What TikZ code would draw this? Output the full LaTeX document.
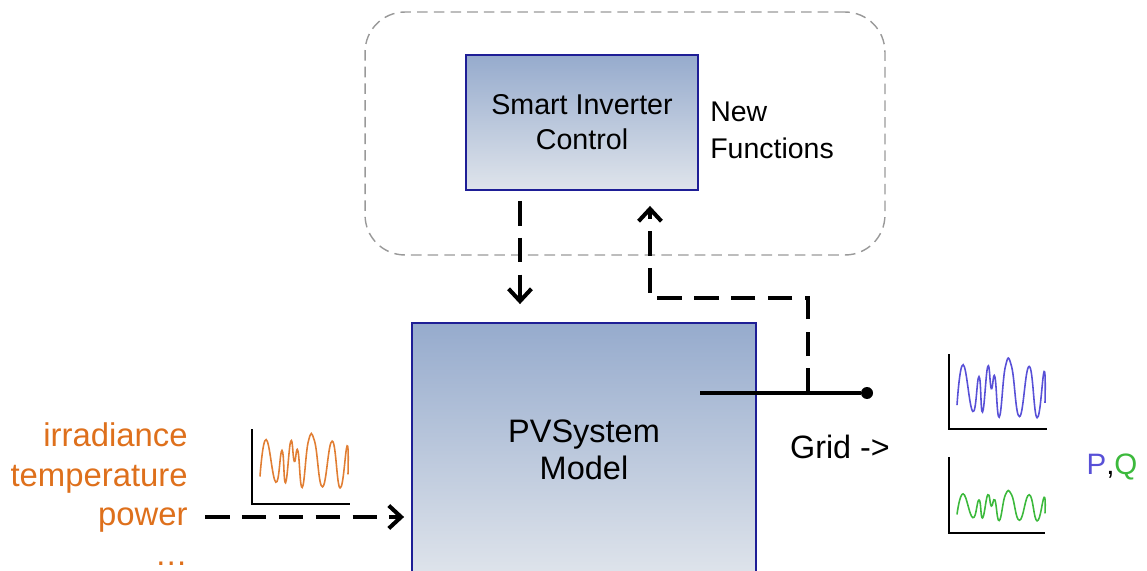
\documentclass[tikz,border=0pt]{standalone}
\usepackage{fontspec}
\setmainfont{Liberation Sans}
\usetikzlibrary{arrows.meta}
\definecolor{boxtop}{RGB}{150,171,205}
\definecolor{boxbot}{RGB}{223,228,235}
\definecolor{boxline}{RGB}{30,30,150}
\definecolor{inorange}{RGB}{222,112,28}
\definecolor{pblue}{RGB}{88,80,215}
\definecolor{qgreen}{RGB}{60,185,60}
\tikzset{signal/.pic={\draw[pic actions] plot[smooth,tension=0.8] coordinates {(0,0.26) (0.07,0.97) (0.18,0.15) (0.25,0.76) (0.29,0.14) (0.35,0.94) (0.39,0.55) (0.43,0.76) (0.48,0.05) (0.55,0.94) (0.62,0.94) (0.71,0.06) (0.82,0.94) (0.91,0.04) (0.99,0.85) (1,0.3)};}}
\begin{document}
\begin{tikzpicture}[x=0.02cm,y=-0.02cm,
    block/.style={draw=boxline,line width=1.1pt,top color=boxtop,bottom color=boxbot,align=center},
    group/.style={draw=black!40,line width=0.8pt,dash pattern=on 6pt off 3.5pt,rounded corners=0.8cm},
    flow/.style={line width=2.3pt,dash pattern=on 14pt off 7pt,-{Straight Barb[length=7pt,width=13pt,line width=2.3pt]}},
    wire/.style={line width=2pt},
    axis/.style={line width=1.1pt},
    dot/.style={circle,fill,inner sep=0pt,minimum size=0.24cm}]
    \clip (0,0) rectangle (1147,571);

    % control part
    \node[group,minimum width=10.4cm,minimum height=4.86cm] (grp) at (625,133.5) {};
    \node[block,minimum width=4.64cm,minimum height=2.7cm,font=\fontsize{16.3}{20}\selectfont] (sic) at (582,122.5) {Smart Inverter\\Control};
    \node[anchor=west,inner sep=0pt,align=left,font=\fontsize{16.2}{21}\selectfont] (new) at (710,130) {New\\Functions};

    % model
    \node[block,minimum width=6.88cm,minimum height=5.08cm,font=\fontsize{18.5}{21}\selectfont] (pv) at (584,450) {PVSystem\\Model};

    % inputs
    \node[anchor=north east,inner sep=0pt,align=right,text=inorange,font=\fontsize{18.7}{22.7}\selectfont] (inputs) at (188,422) {irradiance\\temperature\\power\\\ldots};
    \draw[axis] (252,429) |- (350,504);
    \pic[draw=inorange!90,line width=0.9pt,xscale=88,yscale=-52] at (260,490) {signal};
    \coordinate (pw) at (205,517);
    \draw[flow,shorten >=0.14cm] (pw) -- (pw -| pv.west);

    % grid side
    \coordinate (out) at (700,393);
    \coordinate (tap) at (808,393);
    \node[dot] (grid) at (867,393) {};
    \draw[wire] (out) -- (grid);
    \node[font=\fontsize{18.4}{22}\selectfont] (gridtxt) at (840,447) {Grid ->};

    % control loop
    \coordinate (dn) at (520,0);
    \coordinate (up) at (650,298);
    \draw[flow,shorten <=0.2cm,shorten >=0.36cm] (sic.south -| dn) -- (pv.north -| dn);
    \draw[flow,shorten >=0.3cm] (tap) |- (up) -- (sic.south -| up);

    % outputs
    \draw[axis] (949,354) |- (1047,429);
    \pic[draw=pblue,line width=0.9pt,xscale=88,yscale=-57] at (957,420) {signal};
    \draw[axis] (949,457) |- (1045,533);
    \pic[draw=qgreen,line width=0.9pt,xscale=88,yscale=-29] at (957,522) {signal};
    \node[font=\fontsize{16.8}{20}\selectfont] (pq) at (1112,467) {\textcolor{pblue}{P},\textcolor{qgreen}{Q}};
\end{tikzpicture}
\end{document}
